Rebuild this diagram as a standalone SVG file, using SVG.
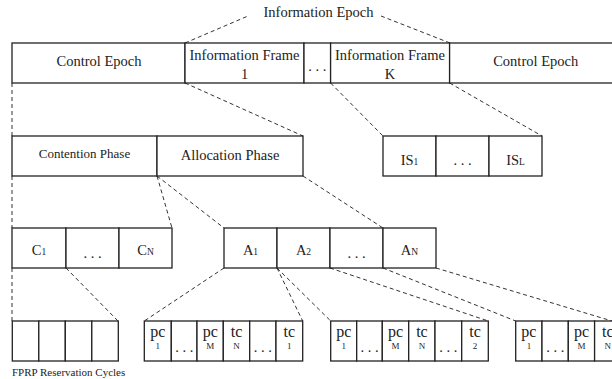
<svg xmlns="http://www.w3.org/2000/svg" width="612" height="379" viewBox="0 0 612 379">
<style>
.b{fill:#fff;stroke:#222;stroke-width:1.3}
.d{fill:none;stroke:#333;stroke-width:1;stroke-dasharray:4 3}
text{font-family:"Liberation Serif","Times New Roman",serif;fill:#222;text-anchor:middle}
.t{font-size:14.5px}
.c{font-size:13px}
.s{font-size:9.5px}
.p{font-size:16px}
.q{font-size:9px}
.f{font-size:11px;text-anchor:start}
</style>
<rect width="612" height="379" fill="#fff"/>
<g id="connectors">
<path class="d" d="M185,43 L248,16"/>
<path class="d" d="M381,16 L450,43"/>
<path class="d" d="M12,83 V136"/>
<path class="d" d="M185,83 L303,136"/>
<path class="d" d="M330.6,83 L383,136"/>
<path class="d" d="M449.6,83 L542,136"/>
<path class="d" d="M12,176 V228"/>
<path class="d" d="M157,176 L172,228"/>
<path class="d" d="M157,176 L224,228"/>
<path class="d" d="M303,176 L383,228"/>
<path class="d" d="M12,268 V321"/>
<path class="d" d="M66,268 L118,321"/>
<path class="d" d="M224,268 L144.3,321"/>
<path class="d" d="M277,268 L302.7,321"/>
<path class="d" d="M277,268 L330.7,321"/>
<path class="d" d="M330,268 L488.3,321"/>
<path class="d" d="M383,268 L515.7,321"/>
<path class="d" d="M436,268 L612,321"/>
</g>
<g id="information-epoch"><text class="t" x="318.5" y="17">Information Epoch</text></g>
<g id="control-epoch-1"><rect class="b" x="12" y="43" width="173" height="40"/><text class="t" x="99" y="66">Control Epoch</text></g>
<g id="information-frame-1"><rect class="b" x="185" y="43" width="119" height="40"/><text class="t" x="244.5" y="60">Information Frame</text><text class="t" x="244.5" y="79">1</text></g>
<g id="frame-dots"><rect class="b" x="304" y="43" width="26.6" height="40"/><text class="t" x="317.3" y="71">. . .</text></g>
<g id="information-frame-k"><rect class="b" x="330.6" y="43" width="119" height="40"/><text class="t" x="390" y="60">Information Frame</text><text class="t" x="390" y="79">K</text></g>
<g id="control-epoch-2"><rect class="b" x="449.6" y="43" width="172" height="40"/><text class="t" x="535.7" y="66">Control Epoch</text></g>
<g id="contention-phase"><rect class="b" x="12" y="136" width="145" height="40"/><text class="c" x="84.5" y="158">Contention Phase</text></g>
<g id="allocation-phase"><rect class="b" x="157" y="136" width="146" height="40"/><text class="t" x="230" y="160">Allocation Phase</text></g>
<g id="is-slots">
<rect class="b" x="383" y="136" width="53" height="40"/><text class="t" x="409.5" y="165">IS<tspan class="s">1</tspan></text>
<rect class="b" x="436" y="136" width="53" height="40"/><text class="t" x="462.5" y="165">. . .</text>
<rect class="b" x="489" y="136" width="53" height="40"/><text class="t" x="515.5" y="165">IS<tspan class="s">L</tspan></text>
</g>
<g id="c-slots">
<rect class="b" x="12" y="228" width="54" height="40"/><text class="t" x="39" y="255">C<tspan class="s">1</tspan></text>
<rect class="b" x="66" y="228" width="53" height="40"/><text class="t" x="92.5" y="258">. . .</text>
<rect class="b" x="119" y="228" width="53" height="40"/><text class="t" x="145.5" y="255">C<tspan class="s">N</tspan></text>
</g>
<g id="a-slots">
<rect class="b" x="224" y="228" width="53" height="40"/><text class="t" x="250.5" y="255">A<tspan class="s">1</tspan></text>
<rect class="b" x="277" y="228" width="53" height="40"/><text class="t" x="303.5" y="255">A<tspan class="s">2</tspan></text>
<rect class="b" x="330" y="228" width="53" height="40"/><text class="t" x="356.5" y="258">. . .</text>
<rect class="b" x="383" y="228" width="53" height="40"/><text class="t" x="409.5" y="255">A<tspan class="s">N</tspan></text>
</g>
<g id="fprp-cycles">
<rect class="b" x="12.3" y="321" width="26.5" height="40"/>
<rect class="b" x="38.8" y="321" width="26.5" height="40"/>
<rect class="b" x="65.3" y="321" width="26.5" height="40"/>
<rect class="b" x="91.8" y="321" width="26.5" height="40"/>
<text class="f" x="12" y="376">FPRP Reservation Cycles</text>
</g>
<g id="slot-group-1">
<rect class="b" x="144.3" y="321" width="27" height="40"/><text class="p" x="157.8" y="337">pc</text><text class="q" x="157.8" y="349">1</text>
<rect class="b" x="171.3" y="321" width="25.7" height="40"/><text class="t" x="184.2" y="352">. . .</text>
<rect class="b" x="197" y="321" width="26.3" height="40"/><text class="p" x="210.2" y="337">pc</text><text class="q" x="210.2" y="349">M</text>
<rect class="b" x="223.3" y="321" width="26.4" height="40"/><text class="p" x="236.5" y="337">tc</text><text class="q" x="236.5" y="349">N</text>
<rect class="b" x="249.7" y="321" width="26.3" height="40"/><text class="t" x="262.9" y="352">. . .</text>
<rect class="b" x="276" y="321" width="26.7" height="40"/><text class="p" x="289.3" y="337">tc</text><text class="q" x="289.3" y="349">1</text>
</g>
<g id="slot-group-2">
<rect class="b" x="330.7" y="321" width="26" height="40"/><text class="p" x="343.7" y="337">pc</text><text class="q" x="343.7" y="349">1</text>
<rect class="b" x="356.7" y="321" width="25.6" height="40"/><text class="t" x="369.5" y="352">. . .</text>
<rect class="b" x="382.3" y="321" width="26.4" height="40"/><text class="p" x="395.5" y="337">pc</text><text class="q" x="395.5" y="349">M</text>
<rect class="b" x="408.7" y="321" width="26.3" height="40"/><text class="p" x="421.9" y="337">tc</text><text class="q" x="421.9" y="349">N</text>
<rect class="b" x="435" y="321" width="26.7" height="40"/><text class="t" x="448.3" y="352">. . .</text>
<rect class="b" x="461.7" y="321" width="26.6" height="40"/><text class="p" x="475" y="337">tc</text><text class="q" x="475" y="349">2</text>
</g>
<g id="slot-group-3">
<rect class="b" x="515.7" y="321" width="26.3" height="40"/><text class="p" x="528.9" y="337">pc</text><text class="q" x="528.9" y="349">1</text>
<rect class="b" x="542" y="321" width="26.3" height="40"/><text class="t" x="555.2" y="352">. . .</text>
<rect class="b" x="568.3" y="321" width="26.3" height="40"/><text class="p" x="581.5" y="337">pc</text><text class="q" x="581.5" y="349">M</text>
<rect class="b" x="594.6" y="321" width="26.3" height="40"/><text class="p" x="607.8" y="337">tc</text><text class="q" x="607.8" y="349">N</text>
</g>
</svg>
